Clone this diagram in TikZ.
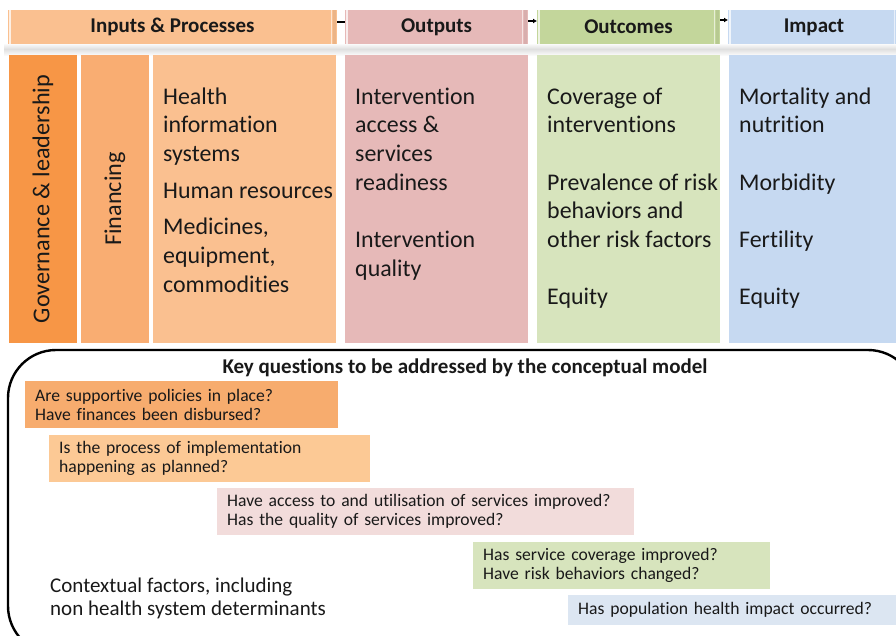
\documentclass[tikz,border=0pt]{standalone}
\usepackage{fontspec}
\setmainfont{Carlito}[Ligatures=NoCommon]
\usetikzlibrary{arrows.meta}

% palette
\definecolor{inHead}{HTML}{FAC090}
\definecolor{outHead}{HTML}{E6B9B8}
\definecolor{ocHead}{HTML}{C3D69B}
\definecolor{imHead}{HTML}{C6D9F1}
\definecolor{govCol}{HTML}{F79646}
\definecolor{finCol}{HTML}{F9AD72}
\definecolor{sysCol}{HTML}{FAC090}
\definecolor{outCol}{HTML}{E6B9B8}
\definecolor{ocCol}{HTML}{D7E4BD}
\definecolor{imCol}{HTML}{C6D9F1}
\definecolor{qOne}{HTML}{F7AC6E}
\definecolor{qTwo}{HTML}{FCC995}
\definecolor{qThree}{HTML}{F2DCDB}
\definecolor{qFour}{HTML}{D7E4BD}
\definecolor{qFive}{HTML}{DCE6F2}

\begin{document}
\begin{tikzpicture}[x=1pt,y=-1pt,
  hdr/.style={inner sep=0pt, outer sep=0pt, minimum height=34pt,
    font=\fontsize{21}{25}\selectfont\bfseries, text=black!90,
    path picture={
      \draw[white,opacity=.75,line width=1.4pt]
        ([xshift=2pt]path picture bounding box.north west) --
        ([xshift=2pt]path picture bounding box.south west);
      \draw[black,opacity=.06,line width=3pt]
        ([xshift=-3pt]path picture bounding box.north east) --
        ([xshift=-3pt]path picture bounding box.south east);
      \draw[white,opacity=.6,line width=1pt]
        ([xshift=-6pt]path picture bounding box.north east) --
        ([xshift=-6pt]path picture bounding box.south east);
    }},
  colbox/.style={inner sep=0pt, outer sep=0pt, anchor=north west, minimum height=288pt},
  coltext/.style={anchor=north west, inner sep=0pt, align=left,
    font=\fontsize{23.9}{28.7}\selectfont, text=black!90},
  vtext/.style={rotate=90, inner sep=0pt, font=\fontsize{24.2}{28}\selectfont, text=black!90},
  qbox/.style={anchor=north west, inner xsep=10pt, inner ysep=0pt, align=left,
    minimum height=47pt, font=\fontsize{17.6}{19}\selectfont, text=black!90},
  link/.style={line width=1.6pt, -{Latex[length=4pt,width=5pt]}}
]
\useasboundingbox (0,0) rectangle (896,635);
\clip (0,0) rectangle (896,635);

% soft shadow under the header row
\shade[top color=white, bottom color=gray!25] (4,43) rectangle (896,49);
\shade[top color=gray!25, bottom color=white] (4,49) rectangle (896,56);

% header row
\node[hdr, fill=inHead,  minimum width=329pt] (hin)  at (172.5,27) {Inputs \& Processes};
\node[hdr, fill=outHead, minimum width=183pt] (hout) at (436.5,27) {Outputs};
\node[hdr, fill=ocHead,  minimum width=183pt] (hoc)  at (628.5,27) {Outcomes};
\node[hdr, fill=imHead,  minimum width=172pt] (him)  at (814,27)   {Impact};

\draw[line width=1.6pt] ([yshift=5pt]hin.east) -- ([yshift=5pt]hout.west);
\draw[link] ([yshift=6pt]hout.east) -- ([yshift=6pt]hoc.west);
\draw[link] ([yshift=7pt]hoc.east) -- ([yshift=7pt]him.west);

% columns
\node[colbox, fill=govCol, minimum width=68pt]  (gov) at (9,55)   {};
\node[colbox, fill=finCol, minimum width=68pt]  (fin) at (81,55)  {};
\node[colbox, fill=sysCol, minimum width=183pt] (sys) at (153,55) {};
\node[colbox, fill=outCol, minimum width=183pt] (out) at (345,55) {};
\node[colbox, fill=ocCol,  minimum width=183pt] (oc)  at (537,55) {};
\node[colbox, fill=imCol,  minimum width=175pt] (im)  at (729,55) {};

\node[vtext] (govtxt) at (gov.center) {Governance \& leadership};
\node[vtext] (fintxt) at (fin.center) {Financing};

\node[coltext] (systxt) at ([xshift=10pt,yshift=-28.8pt]sys.north west)
  {\strut Health\\ information\\ systems\\[8pt] Human resources\\[8pt] Medicines,\\ equipment,\\ commodities};
\node[coltext] (outtxt) at ([xshift=10pt,yshift=-28.8pt]out.north west)
  {\strut Intervention\\ access \&\\ services\\ readiness\\[28.7pt] Intervention\\ quality};
\node[coltext] (octxt) at ([xshift=10pt,yshift=-28.8pt]oc.north west)
  {\strut Coverage of\\ interventions\\[28.7pt] Prevalence of risk\\ behaviors and\\ other risk factors\\[28.7pt] Equity};
\node[coltext] (imtxt) at ([xshift=10pt,yshift=-28.8pt]im.north west)
  {\strut Mortality and\\ nutrition\\[28.7pt] Morbidity\\[28.7pt] Fertility\\[28.7pt] Equity};

% key questions panel
\draw[line width=2.4pt, rounded corners=48pt] (8,350) rectangle (916,654);
\node[font=\fontsize{21}{24}\selectfont\bfseries, text=black!90] (keytitle) at (465,368)
  {Key questions to be addressed by the conceptual model};

\node[qbox, fill=qOne,   text width=293pt] (q1) at (25,381)
  {Are supportive policies in place?\\ Have finances been disbursed?};
\node[qbox, fill=qTwo,   text width=301pt] (q2) at (49,435)
  {Is the process of implementation\\ happening as planned?};
\node[qbox, fill=qThree, text width=397pt] (q3) at (217,488)
  {Have access to and utilisation of services improved?\\ Has the quality of services improved?};
\node[qbox, fill=qFour,  text width=277pt] (q4) at (473,542)
  {Has service coverage improved?\\ Have risk behaviors changed?};
\node[qbox, fill=qFive,  text width=320pt, minimum height=30pt] (q5) at (568,595)
  {Has population health impact occurred?};

\node[anchor=north west, inner sep=0pt, align=left,
      font=\fontsize{21}{23}\selectfont, text=black!90] (context) at (50,576)
  {\strut Contextual factors, including\\ non health system determinants};
\end{tikzpicture}
\end{document}
